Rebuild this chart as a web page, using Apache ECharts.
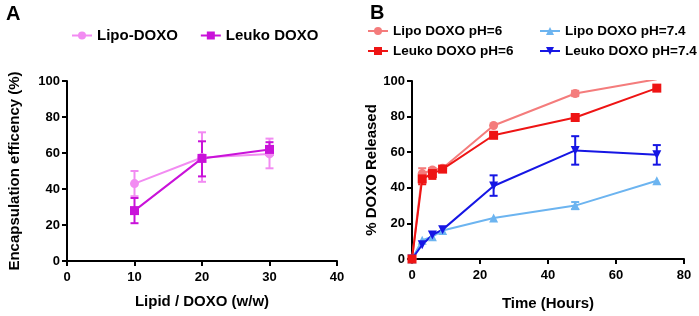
<!DOCTYPE html>
<html>
<head>
<meta charset="utf-8">
<script src="https://cdn.jsdelivr.net/npm/echarts@6/dist/echarts.min.js"></script>
<style>
  html, body { margin: 0; padding: 0; background: #fff; }
  #chart { width: 699px; height: 316px; }
</style>
</head>
<body>
<div id="chart"></div>
<script>
// panel A: encapsulation efficiency vs lipid/DOXO ratio
const ratioX = [10, 20, 30];
const lipoEE = [43, 57.5, 59.5];
const lipoEEErr = [[36, 50], [44, 71.5], [51.5, 68]];
const leukoEE = [28, 57, 62];
const leukoEEErr = [[21, 35], [47, 66.5], [59, 66]];

// panel B: release over time
const hours = [0, 3, 6, 9, 24, 48, 72];
const lipoPH6 = [0, 48, 50, 51, 75, 93, 101];
const lipoPH6Err = [[3, 46, 51], [48, 91.5, 94.5]];
const leukoPH6 = [0, 45, 48, 50.5, 69.5, 79.5, 96];
const leukoPH6Err = [[3, 42, 48], [6, 45, 51]];
const lipoPH74 = [0, 10.5, 12.5, 16, 23, 30, 44];
const lipoPH74Err = [[48, 28, 32]];
const leukoPH74 = [0, 8, 13.5, 16.5, 41, 61, 58.5];
const leukoPH74Err = [[24, 35.5, 47], [48, 53, 69], [72, 53, 64]];

const FONT = "Liberation Sans";
const C = {
  lipoA: "#f28bf2",
  leukoA: "#c912d9",
  lipo6: "#f47c7c",
  leuko6: "#ee1414",
  lipo74: "#6cb4f0",
  leuko74: "#1616e4",
};

const pair = (xs, ys) => xs.map((x, i) => [x, ys[i]]);

function errBars(name, data, color, axis) {
  return {
    name: name + " err",
    type: "custom",
    xAxisIndex: axis,
    yAxisIndex: axis,
    data: data,
    encode: { x: 0, y: [1, 2] },
    silent: true,
    renderItem: (params, api) => {
      const lo = api.coord([api.value(0), api.value(1)]);
      const hi = api.coord([api.value(0), api.value(2)]);
      const w = 4;
      const st = { stroke: color, lineWidth: 2 };
      return {
        type: "group",
        children: [
          { type: "line", shape: { x1: lo[0], y1: lo[1], x2: hi[0], y2: hi[1] }, style: st },
          { type: "line", shape: { x1: lo[0] - w, y1: lo[1], x2: lo[0] + w, y2: lo[1] }, style: st },
          { type: "line", shape: { x1: hi[0] - w, y1: hi[1], x2: hi[0] + w, y2: hi[1] }, style: st },
        ],
      };
    },
  };
}

function lineSeries(name, data, color, symbol, axis, extra) {
  return Object.assign({
    name: name,
    type: "line",
    xAxisIndex: axis,
    yAxisIndex: axis,
    data: data,
    symbol: symbol,
    symbolSize: 9,
    showAllSymbol: true,
    clip: true,
    lineStyle: { color: color, width: 2 },
    itemStyle: { color: color },
    z: 3,
  }, extra || {});
}

const axisCommon = {
  axisLine: { show: true, lineStyle: { color: "#000", width: 2 } },
  axisTick: { show: true, length: 5, lineStyle: { color: "#000", width: 2 } },
  splitLine: { show: false },
  nameTextStyle: { color: "#000", fontFamily: FONT, fontWeight: "bold", fontSize: 15 },
  nameLocation: "middle",
};
const tickFont = { color: "#000", fontFamily: FONT, fontWeight: "bold", fontSize: 13 };
const xLabel = Object.assign({ margin: 10 }, tickFont);
const yLabel = Object.assign({ margin: 7 }, tickFont);

const legendText = { color: "#000", fontFamily: FONT, fontWeight: "bold", fontSize: 15 };
const legendTextB = Object.assign({}, legendText, { fontSize: 13.5 });

const chart = echarts.init(document.getElementById("chart"));
chart.setOption({
  animation: false,
  title: [
    { text: "A", left: 1, top: -1, textStyle: { fontFamily: FONT, fontWeight: "bold", fontSize: 20, color: "#000" } },
    { text: "B", left: 365, top: -2, textStyle: { fontFamily: FONT, fontWeight: "bold", fontSize: 20, color: "#000" } },
  ],
  legend: [
    {
      data: ["Lipo-DOXO", "Leuko DOXO"],
      left: 66, top: 23, itemWidth: 20, itemHeight: 10, itemGap: 22,
      textStyle: legendText,
    },
    {
      data: ["Lipo DOXO pH=6", "Leuko DOXO pH=6"],
      orient: "vertical",
      left: 362, top: 19, itemWidth: 20, itemHeight: 10, itemGap: 6,
      textStyle: legendTextB,
    },
    {
      data: ["Lipo DOXO pH=7.4", "Leuko DOXO pH=7.4"],
      orient: "vertical",
      left: 534, top: 19, itemWidth: 20, itemHeight: 10, itemGap: 6,
      textStyle: legendTextB,
    },
  ],
  grid: [
    { left: 67, top: 81, width: 270, height: 180 },
    { left: 412, top: 81, width: 272, height: 181 },
  ],
  xAxis: [
    Object.assign({}, axisCommon, {
      gridIndex: 0, type: "value", min: 0, max: 40, interval: 10,
      axisLabel: xLabel, name: "Lipid / DOXO (w/w)", nameGap: 33,
    }),
    Object.assign({}, axisCommon, {
      gridIndex: 1, type: "value", min: 0, max: 80, interval: 20,
      axisLabel: xLabel, name: "Time (Hours)", nameGap: 37,
    }),
  ],
  yAxis: [
    Object.assign({}, axisCommon, {
      gridIndex: 0, type: "value", min: 0, max: 100, interval: 20,
      axisLabel: yLabel, name: "Encapsulation efficency (%)", nameGap: 45,
    }),
    Object.assign({}, axisCommon, {
      gridIndex: 1, type: "value", min: 0, max: 100, interval: 20,
      axisLabel: yLabel, name: "% DOXO Released", nameGap: 33,
    }),
  ],
  series: [
    errBars("Lipo-DOXO", ratioX.map((x, i) => [x].concat(lipoEEErr[i])), C.lipoA, 0),
    lineSeries("Lipo-DOXO", pair(ratioX, lipoEE), C.lipoA, "circle", 0),
    errBars("Leuko DOXO", ratioX.map((x, i) => [x].concat(leukoEEErr[i])), C.leukoA, 0),
    lineSeries("Leuko DOXO", pair(ratioX, leukoEE), C.leukoA, "rect", 0),

    errBars("Lipo DOXO pH=7.4", lipoPH74Err, C.lipo74, 1),
    lineSeries("Lipo DOXO pH=7.4", pair(hours, lipoPH74), C.lipo74, "triangle", 1),
    errBars("Lipo DOXO pH=6", lipoPH6Err, C.lipo6, 1),
    lineSeries("Lipo DOXO pH=6", pair(hours, lipoPH6), C.lipo6, "circle", 1),
    errBars("Leuko DOXO pH=7.4", leukoPH74Err, C.leuko74, 1),
    lineSeries("Leuko DOXO pH=7.4", pair(hours, leukoPH74), C.leuko74, "triangle", 1, { symbolRotate: 180 }),
    errBars("Leuko DOXO pH=6", leukoPH6Err, C.leuko6, 1),
    lineSeries("Leuko DOXO pH=6", pair(hours, leukoPH6), C.leuko6, "rect", 1),
  ],
});
</script>
</body>
</html>
